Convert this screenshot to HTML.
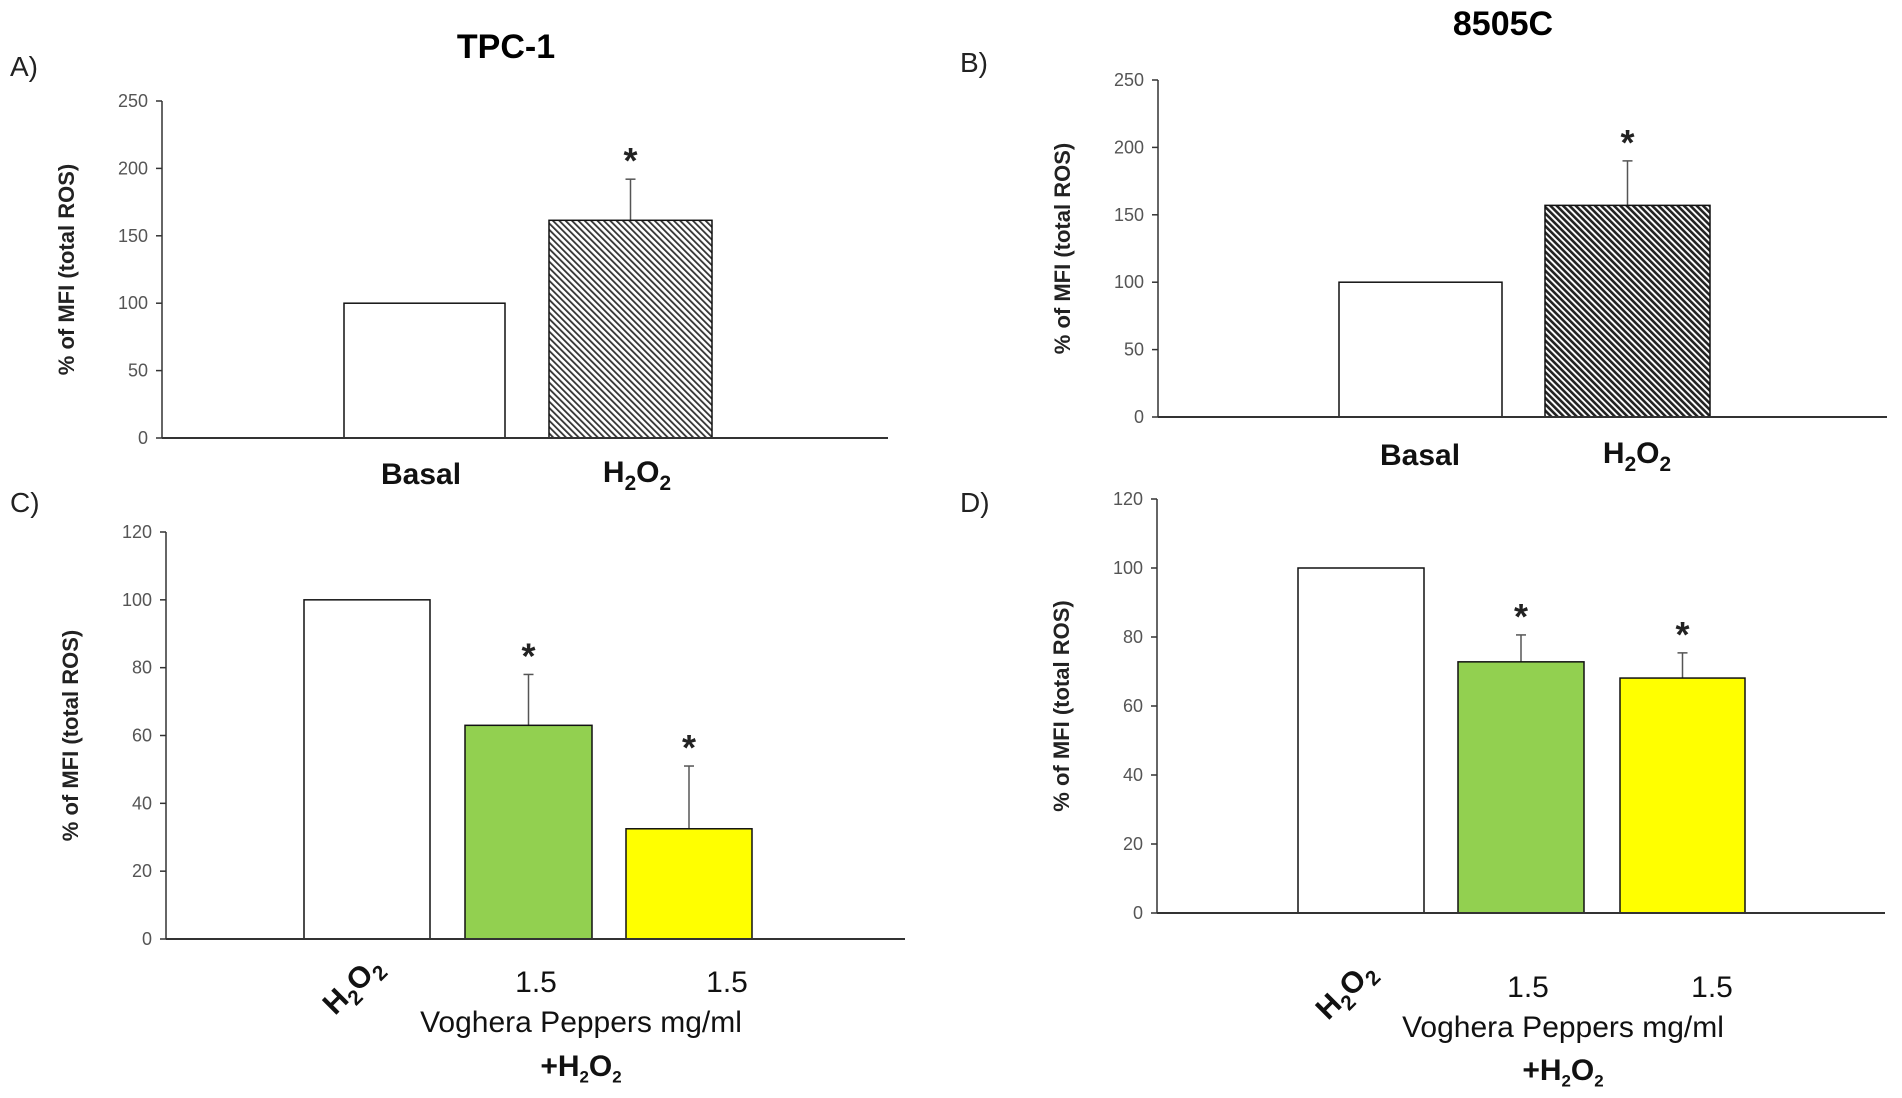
<!DOCTYPE html>
<html><head><meta charset="utf-8">
<style>
html,body{margin:0;padding:0;background:#fff;}
svg{display:block;font-family:"Liberation Sans",sans-serif;}
.tick{font-size:18px;fill:#555;font-family:"Liberation Sans Narrow","Liberation Sans",sans-serif;}
.ytitle{font-size:22px;font-weight:bold;fill:#222;}
.cat{font-size:30px;fill:#111;font-family:"Liberation Sans Narrow","Liberation Sans",sans-serif;}
</style></head>
<body>
<svg id="fig" width="1902" height="1098" viewBox="0 0 1902 1098">
<defs>
<pattern id="hatchA" patternUnits="userSpaceOnUse" width="4.5" height="4.5" patternTransform="rotate(-45)">
<rect width="4.5" height="4.5" fill="#fff"/><rect width="1.8" height="4.5" fill="#333"/></pattern>
<pattern id="hatchB" patternUnits="userSpaceOnUse" width="4.5" height="4.5" patternTransform="rotate(-45)">
<rect width="4.5" height="4.5" fill="#fff"/><rect width="2.6" height="4.5" fill="#222"/></pattern>
</defs>
<text x="506" y="58" text-anchor="middle" font-size="34" font-weight="bold">TPC-1</text>
<text x="1503" y="35" text-anchor="middle" font-size="34" font-weight="bold">8505C</text>
<text x="10" y="76" font-size="28" fill="#222">A)</text>
<text x="960" y="72" font-size="28" fill="#222">B)</text>
<text x="10" y="512" font-size="28" fill="#222">C)</text>
<text x="960" y="512" font-size="28" fill="#222">D)</text>
<g id="panels"></g>
</svg>
<script>
// Panel A data
const catsA = ["Basal", "H2O2"];
const valsA = [100, 161.5];
const errsA = [0, 192];
const ticksA = [0, 50, 100, 150, 200, 250];
// Panel B data
const catsB = ["Basal", "H2O2"];
const valsB = [100, 157];
const errsB = [0, 190];
const ticksB = [0, 50, 100, 150, 200, 250];
// Panel C data
const catsC = ["H2O2", "1.5", "1.5"];
const valsC = [100, 63, 32.5];
const errsC = [0, 78, 51];
const ticksC = [0, 20, 40, 60, 80, 100, 120];
// Panel D data
const catsD = ["H2O2", "1.5", "1.5"];
const valsD = [100, 72.8, 68.1];
const errsD = [0, 80.6, 75.4];
const ticksD = [0, 20, 40, 60, 80, 100, 120];

const NS = "http://www.w3.org/2000/svg";
const root = document.getElementById('panels');
function mk(tag, attrs, parent, text){
  const e = document.createElementNS(NS, tag);
  for (const k in attrs) e.setAttribute(k, attrs[k]);
  if (text !== undefined) e.textContent = text;
  parent.appendChild(e); return e;
}
function panel(cfg, cats, vals, errs, ticks){
  const g = mk('g', {}, root);
  
  
  const max = ticks[ticks.length-1];
  const y = v => cfg.y0 - (v/max)*(cfg.y0 - cfg.yTop);
  const ax = mk('line', {x1:cfg.x0, x2:cfg.x0, y1:cfg.yTop, y2:cfg.y0, stroke:'#333','stroke-width':1.5}, g);
  
  
  ticks.forEach(t=>{
    mk('line', {x1:cfg.x0-6, x2:cfg.x0, y1:y(t), y2:y(t), stroke:'#333','stroke-width':1.5}, g);
    const tl = mk('text', {x:cfg.x0-14, y:y(t)+6, 'text-anchor':'end', class:'tick'}, g, String(t));
    
    
  });
  const yt = mk('text', {class:'ytitle','text-anchor':'middle', transform:`translate(${cfg.x0-88},${(cfg.y0+cfg.yTop)/2}) rotate(-90)`}, g, '% of MFI (total ROS)');
  
  
  cats.forEach((c,i)=>{
    const bx = cfg.bars[i][0], bw = cfg.bars[i][1]-cfg.bars[i][0];
    if (errs[i] > vals[i]) {
      const cx = bx + bw/2;
      mk('line', {x1:cx, x2:cx, y1:y(errs[i]), y2:y(vals[i]), stroke:'#555','stroke-width':1.5}, g);
      mk('line', {x1:cx-5, x2:cx+5, y1:y(errs[i]), y2:y(errs[i]), stroke:'#555','stroke-width':1.5}, g);
      const st = mk('text', {x:cx, y:y(errs[i])-6, 'text-anchor':'middle','font-size':36, 'font-weight':'bold', fill:'#222'}, g, '*');
      
      
    }
    const r = mk('rect', {x:bx, y:y(vals[i]), width:bw, height:cfg.y0-y(vals[i]), fill:cfg.fills[i], stroke:'#111','stroke-width':1.5}, g);
    
    
  });
  const xa = mk('line', {x1:cfg.x0, x2:cfg.xEnd, y1:cfg.y0, y2:cfg.y0, stroke:'#333','stroke-width':2}, g);
  
  
  return {g, y};
}
function h2o2(parent, x, y, size, anchor, extra){
  const opts = Object.assign({}, extra||{});
  const pre = opts.prefix || ''; delete opts.prefix;
  const t = mk('text', Object.assign({x:x, y:y, 'text-anchor':anchor||'middle', class:'cat', 'font-size':size}, opts), parent);
  if (pre) mk('tspan', {}, t, pre);
  mk('tspan', {}, t, 'H');
  mk('tspan', {dy:size*0.25, 'font-size':size*0.65}, t, '2');
  mk('tspan', {dy:-size*0.25}, t, 'O');
  mk('tspan', {dy:size*0.25, 'font-size':size*0.65}, t, '2');
  return t;
}
const A = panel({name:'panel-a', x0:162, y0:438, yTop:101, xEnd:888, bars:[[344,505],[549,712]], fills:['#fff','url(#hatchA)']}, catsA, valsA, errsA, ticksA);
let t = mk('text', {x:421, y:484, 'text-anchor':'middle', class:'cat', 'font-weight':'bold', 'font-size':33}, A.g, catsA[0]);
 
t = h2o2(A.g, 637, 482, 32, 'middle', {'font-weight':'bold'});
 
const B = panel({name:'panel-b', x0:1158, y0:417, yTop:80, xEnd:1887, bars:[[1339,1502],[1545,1710]], fills:['#fff','url(#hatchB)']}, catsB, valsB, errsB, ticksB);
t = mk('text', {x:1420, y:465, 'text-anchor':'middle', class:'cat', 'font-weight':'bold', 'font-size':33}, B.g, catsB[0]);
 
t = h2o2(B.g, 1637, 463, 32, 'middle', {'font-weight':'bold'});
 
const C = panel({name:'panel-c', x0:166, y0:939, yTop:532, xEnd:905, bars:[[304,430],[465,592],[626,752]], fills:['#fff','#92d050','#ffff00']}, catsC, valsC, errsC, ticksC);
t = h2o2(C.g, 352, 995, 32, 'middle', {'font-weight':'bold', transform:'rotate(-45 352 985)'});
 
[1,2].forEach(i=>{ const l = mk('text', {x:[0,536,727][i], y:992, 'text-anchor':'middle', class:'cat', 'font-size':32}, C.g, catsC[i]);
    });
t = mk('text', {x:581, y:1032, 'text-anchor':'middle', class:'cat', 'font-size':27}, C.g, 'Voghera Peppers mg/ml');
 
t = h2o2(C.g, 581, 1076, 26, 'middle', {'font-weight':'bold', prefix:'+'});
 
const D = panel({name:'panel-d', x0:1157, y0:913, yTop:499, xEnd:1885, bars:[[1298,1424],[1458,1584],[1620,1745]], fills:['#fff','#92d050','#ffff00']}, catsD, valsD, errsD, ticksD);
t = h2o2(D.g, 1345, 1000, 32, 'middle', {'font-weight':'bold', transform:'rotate(-45 1345 990)'});
 
[1,2].forEach(i=>{ const l = mk('text', {x:[0,1528,1712][i], y:997, 'text-anchor':'middle', class:'cat', 'font-size':32}, D.g, catsD[i]);
    });
t = mk('text', {x:1563, y:1037, 'text-anchor':'middle', class:'cat', 'font-size':27}, D.g, 'Voghera Peppers mg/ml');
 
t = h2o2(D.g, 1563, 1080, 26, 'middle', {'font-weight':'bold', prefix:'+'});
 
</script>
</body></html>
